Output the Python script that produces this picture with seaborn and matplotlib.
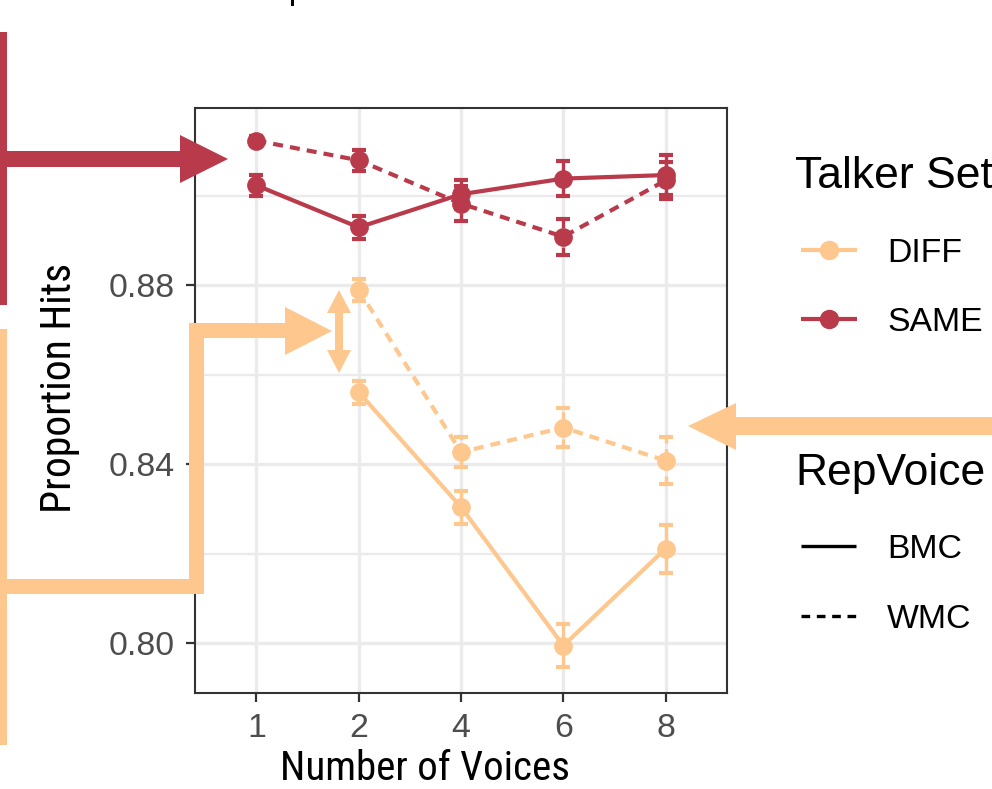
import numpy as np
import pandas as pd
import matplotlib
matplotlib.use("Agg")
import matplotlib.pyplot as plt
import matplotlib.transforms as mtransforms
from matplotlib.patches import Polygon, Rectangle
from matplotlib.lines import Line2D
from matplotlib.ticker import FixedLocator
from matplotlib import font_manager as fm
import seaborn as sns

# ---- data -------------------------------------------------------------
voices = ["1", "2", "4", "6", "8"]
talker_sets = ["DIFF", "SAME"]
rep_voices = ["BMC", "WMC"]

same_bmc = [0.9024, 0.8930, 0.9004, 0.9039, 0.9047]
same_wmc = [0.9124, 0.9080, 0.8983, 0.8909, 0.9035]
diff_bmc = [None, 0.8561, 0.8304, 0.7994, 0.8211]
diff_wmc = [None, 0.8790, 0.8427, 0.8482, 0.8408]

same_bmc_se = [0.0023, 0.0026, 0.0032, 0.0040, 0.0044]
same_wmc_se = [0.0010, 0.0024, 0.0039, 0.0040, 0.0041]
diff_bmc_se = [None, 0.0026, 0.0037, 0.0048, 0.0054]
diff_wmc_se = [None, 0.0024, 0.0034, 0.0044, 0.0053]

y_major = [0.80, 0.84, 0.88]
y_minor = [0.82, 0.86, 0.90]
y_labels = ["0.80", "0.84", "0.88"]

palette = {"DIFF": "#FEC78E", "SAME": "#B83A4B"}
dash = (0, (2.4, 1.7))
line_styles = {"BMC": "-", "WMC": dash}

series = [
    ("DIFF", "BMC", diff_bmc, diff_bmc_se),
    ("DIFF", "WMC", diff_wmc, diff_wmc_se),
    ("SAME", "BMC", same_bmc, same_bmc_se),
    ("SAME", "WMC", same_wmc, same_wmc_se),
]
rows = []
for ts, rv, means, ses in series:
    for v, m, s in zip(voices, means, ses):
        if m is not None:
            rows.append({"Voices": v, "Talker Set": ts, "RepVoice": rv,
                         "Proportion Hits": m, "SE": s})
df = pd.DataFrame(rows)


def condensed_font():
    prefs = ["liberation sans narrow", "roboto condensed", "dejavu sans condensed",
             "open sans condensed", "noto sans condensed"]
    found = {}
    for e in fm.fontManager.ttflist:
        name = e.name.lower()
        stretch = str(e.stretch).lower()
        fname = e.fname.lower()
        if e.style != "normal" or "bold" in fname or "italic" in fname or "oblique" in fname:
            continue
        if e.weight not in (400, "normal", "regular"):
            continue
        key = None
        if "narrow" in name or "narrow" in fname:
            key = "liberation sans narrow" if "liberation" in name else name
        elif "condensed" in name or "condensed" in stretch or "condensed" in fname:
            base = name.replace(" condensed", "")
            key = base + " condensed"
        if key:
            found.setdefault(key, e.fname)
    for p in prefs:
        if p in found:
            return fm.FontProperties(fname=found[p])
    if found:
        return fm.FontProperties(fname=list(found.values())[0])
    return fm.FontProperties(family="Liberation Sans")


# ---- figure -----------------------------------------------------------
sns.set_theme(style="white")
plt.rcParams["font.family"] = ["Liberation Sans", "DejaVu Sans"]

W, H = 992, 789
fig = plt.figure(figsize=(W / 100, H / 100), dpi=100)
fig.patch.set_facecolor("white")
ax = fig.add_axes([195 / W, 1 - 693 / H, 532 / W, 585 / H])
# pixel coordinates measured from the top-left corner of the canvas
px = mtransforms.Affine2D().scale(1 / W, -1 / H).translate(0, 1) + fig.transFigure

# error bars
for ts, rv, means, ses in series:
    sub = df[(df["Talker Set"] == ts) & (df["RepVoice"] == rv)]
    pos = [voices.index(v) for v in sub["Voices"]]
    eb = ax.errorbar(pos, sub["Proportion Hits"], yerr=sub["SE"], fmt="none",
                     ecolor=palette[ts], elinewidth=2.4, capsize=5, capthick=3.0,
                     zorder=2)
    for coll in eb.lines[2]:
        coll.set_linestyle(line_styles[rv])

# means joined by lines, one pass per RepVoice level
n_before = len(ax.lines)
for rv in rep_voices:
    sub = df[df["RepVoice"] == rv]
    sns.pointplot(data=sub, x="Voices", y="Proportion Hits", hue="Talker Set",
                  order=voices, hue_order=talker_sets, palette=palette,
                  markers="o", linestyles=[line_styles[rv]] * 2, errorbar=None,
                  legend=False, ax=ax, markersize=13.5, linewidth=3.0,
                  markeredgewidth=0)
for ln in ax.lines[n_before:]:
    ln.set_linewidth(3.0)
    ln.set_markersize(13.5)
    ln.set_markeredgewidth(0)
    ln.set_zorder(3)

ax.set_xlim(-0.6, 4.6)
ax.set_ylim(0.7888, 0.9197)
ax.set_xticks(range(len(voices)))
ax.set_xticklabels(voices)
ax.yaxis.set_major_locator(FixedLocator(y_major))
ax.set_yticklabels(y_labels)
ax.yaxis.set_minor_locator(FixedLocator(y_minor))

ax.set_axisbelow(True)
ax.grid(which="major", color="#EBEBEB", linewidth=2.4)
ax.grid(which="minor", axis="y", color="#EBEBEB", linewidth=1.7)
for sp in ax.spines.values():
    sp.set_color("#333333")
    sp.set_linewidth(1.5)
ax.tick_params(which="major", length=6.5, width=1.6, color="#333333",
               labelcolor="#4D4D4D", labelsize=24.4, pad=8,
               left=True, bottom=True)
ax.tick_params(which="minor", length=0)

narrow = condensed_font()
ax.set_xlabel("Number of Voices", fontproperties=narrow, fontsize=29.5, color="black")
ax.set_ylabel("Proportion Hits", fontproperties=narrow, fontsize=30, color="black")
ax.xaxis.set_label_coords((424.5 - 195) / 532, -(768 - 693) / 585)
ax.yaxis.set_label_coords(-(195 - 60) / 532, (693 - 387.5) / 585)
ax.xaxis.label.set_va("center")
ax.yaxis.label.set_va("center")

# ---- legend -------------------------------------------------------------
fig.text(795, 188, "Talker Set", transform=px, fontsize=32, va="baseline", color="black")
for ts, yk in zip(talker_sets, [250, 319]):
    fig.add_artist(Line2D([801, 857], [yk, yk], color=palette[ts], lw=3.0,
                          transform=px, solid_capstyle="butt"))
    fig.add_artist(Line2D([829], [yk], marker="o", markersize=14, markeredgewidth=0,
                          color=palette[ts], transform=px))
    fig.text(887, yk + 12.5, ts, transform=px, fontsize=24.3, va="baseline", color="black")

fig.text(795, 485, "RepVoice", transform=px, fontsize=32, va="baseline", color="black")
for rv, yk in zip(rep_voices, [546, 616]):
    ls = "-" if rv == "BMC" else (0, (2.6, 2.0))
    fig.add_artist(Line2D([801, 856], [yk, yk], color="black", lw=2.4, linestyle=ls,
                          transform=px, solid_capstyle="butt", dash_capstyle="butt"))
    fig.text(887, yk + 12.5, rv, transform=px, fontsize=24.3, va="baseline", color="black")

# ---- callout arrows -----------------------------------------------------
red = palette["SAME"]
peach = palette["DIFF"]


def shape(pts, color):
    fig.add_artist(Polygon(pts, closed=True, facecolor=color, edgecolor="none",
                           transform=px, zorder=5))


# SAME callout
shape([(0, 32), (7, 32), (7, 305), (0, 305)], red)
shape([(0, 151), (181, 151), (181, 167), (0, 167)], red)
shape([(180, 135), (228, 159), (180, 183)], red)

# DIFF callout (bracket with arrow)
shape([(0, 329), (7, 329), (7, 745), (0, 745)], peach)
shape([(0, 579), (204, 579), (204, 594), (0, 594)], peach)
shape([(189, 323), (204, 323), (204, 594), (189, 594)], peach)
shape([(189, 323), (286, 323), (286, 338), (189, 338)], peach)
shape([(285, 307), (332, 331), (285, 355)], peach)

# double-headed arrow between the two DIFF means at 2 voices
shape([(335, 312), (343, 312), (343, 351), (335, 351)], peach)
shape([(327, 313), (339, 290), (351, 313)], peach)
shape([(327, 350), (339, 373), (351, 350)], peach)

# right-hand arrow toward the WMC DIFF series
shape([(735, 417), (992, 417), (992, 435), (735, 435)], peach)
shape([(736, 403), (688, 426), (736, 450)], peach)

# descender of the cropped heading at the top edge
fig.add_artist(Rectangle((291, 0), 3, 6, facecolor="black", edgecolor="none",
                         transform=px, zorder=5))

fig.savefig("out.png", dpi=100, facecolor="white")
